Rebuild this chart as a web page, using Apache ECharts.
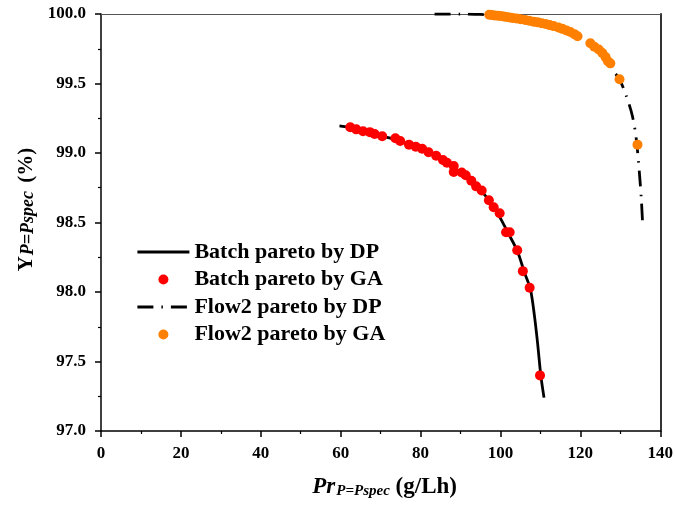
<!DOCTYPE html>
<html>
<head>
<meta charset="utf-8">
<script src="https://cdn.jsdelivr.net/npm/echarts@6/dist/echarts.min.js"></script>
<style>
  html, body { margin: 0; padding: 0; background: #fff; }
  #chart { width: 676px; height: 507px; }
</style>
</head>
<body>
<div id="chart"></div>
<script>
// Batch process pareto front computed by dynamic programming
const batchDPx = [59.7, 62, 66, 70, 74, 78, 82, 86, 88, 90, 92, 94, 96, 98, 100, 102, 104.3, 106, 107.5, 108.5, 109.3, 110.1, 110.9];
const batchDPy = [99.195, 99.185, 99.16, 99.125, 99.095, 99.05, 99.005, 98.945, 98.9, 98.86, 98.81, 98.76, 98.7, 98.625, 98.53, 98.42, 98.29, 98.14, 98.02, 97.83, 97.63, 97.4, 97.24];

// Batch process pareto solutions found by the genetic algorithm
const batchGAx = [62.4, 63.9, 65.6, 67.3, 68.5, 70.4, 73.7, 74.9, 77.1, 78.8, 80.4, 82.0, 83.9, 85.6, 86.6, 88.3, 88.3, 90.3, 91.3, 92.7, 93.9, 95.3, 97.1, 98.3, 99.8, 101.4, 102.3, 104.2, 105.6, 107.3, 109.9];
const batchGAy = [99.185, 99.17, 99.156, 99.15, 99.137, 99.12, 99.106, 99.086, 99.06, 99.045, 99.03, 99.005, 98.98, 98.95, 98.93, 98.906, 98.863, 98.86, 98.84, 98.80, 98.76, 98.73, 98.66, 98.61, 98.566, 98.43, 98.43, 98.30, 98.15, 98.03, 97.40];

// Flow2 process pareto front computed by dynamic programming
const flowDPx = [83.5, 90, 95, 100, 105, 110, 115, 119.5, 123, 126, 128, 129.8, 131.5, 133, 134, 134.8, 135.3, 135.6];
const flowDPy = [100.0, 100.0, 99.997, 99.985, 99.963, 99.933, 99.893, 99.835, 99.775, 99.705, 99.6, 99.53, 99.41, 99.27, 99.1, 98.85, 98.65, 98.48];

// Flow2 process pareto solutions found by the genetic algorithm
const flowGAx = [97.2, 97.8, 98.5, 99.3, 100.0, 100.8, 101.5, 102.3, 103.0, 104.0, 105.0, 106.2, 107.2, 108.3, 109.3, 110.3, 111.3, 112.3, 113.3, 114.5, 115.5, 116.5, 117.5, 118.5, 119.3, 122.5, 123.5, 124.6, 125.5, 126.3, 126.9, 127.5, 129.8, 134.3];
const flowGAy = [99.995, 99.993, 99.99, 99.987, 99.985, 99.982, 99.978, 99.975, 99.972, 99.968, 99.963, 99.957, 99.952, 99.945, 99.94, 99.933, 99.928, 99.92, 99.913, 99.903, 99.893, 99.882, 99.87, 99.855, 99.84, 99.79, 99.765, 99.745, 99.72, 99.69, 99.66, 99.645, 99.53, 99.06];

// Axis ranges and tick spacing
const xMin = 0, xMax = 140, xStep = 20;
const yMin = 97.0, yMax = 100.0, yStep = 0.5;

const pairs = (xs, ys) => xs.map((x, i) => [x, ys[i]]);

const FONT = '"Liberation Serif", "DejaVu Serif", serif';

const chart = echarts.init(document.getElementById('chart'), null, { renderer: 'canvas' });

const axisLineStyle = { color: '#000', width: 1.5 };
const dpSolid = { color: '#000', width: 2.8 };
const dpDashed = { color: '#000', width: 2.8, type: [16, 8, 1.5, 8] };

chart.setOption({
  animation: false,
  backgroundColor: '#fff',
  grid: { left: 101, right: 14, top: 14, bottom: 76, containLabel: false },
  legend: {
    orient: 'vertical',
    left: 131,
    top: 236,
    itemWidth: 52,
    itemHeight: 10,
    itemGap: 5.5,
    textStyle: { fontFamily: FONT, fontWeight: 'bold', fontSize: 22, color: '#000', lineHeight: 18 },
    data: [
      { name: 'Batch pareto by DP', itemStyle: { opacity: 0 }, lineStyle: dpSolid },
      { name: 'Batch pareto by GA', icon: 'circle' },
      { name: 'Flow2 pareto by DP', itemStyle: { opacity: 0 }, lineStyle: dpDashed },
      { name: 'Flow2 pareto by GA', icon: 'circle' }
    ]
  },
  xAxis: [{
    type: 'value',
    min: xMin, max: xMax, interval: xStep,
    position: 'bottom',
    name: '{it|Pr}{sub|P=Pspec}{b| (g/Lh)}',
    nameLocation: 'middle',
    nameGap: 42,
    nameTextStyle: {
      fontFamily: FONT, color: '#000',
      padding: [0, 0, 0, 8],
      rich: {
        it: { fontFamily: FONT, fontSize: 23, fontWeight: 'bold', fontStyle: 'italic', color: '#000', verticalAlign: 'bottom', lineHeight: 26 },
        sub: { fontFamily: FONT, fontSize: 15, fontWeight: 'bold', fontStyle: 'italic', color: '#000', verticalAlign: 'bottom', lineHeight: 26, padding: [9, 0, 0, 1] },
        b: { fontFamily: FONT, fontSize: 23, fontWeight: 'bold', color: '#000', verticalAlign: 'bottom', lineHeight: 26 }
      }
    },
    axisLine: { show: true, onZero: false, lineStyle: axisLineStyle },
    axisTick: { show: true, inside: false, length: 6, lineStyle: axisLineStyle },
    minorTick: { show: true, splitNumber: 2, length: 3, lineStyle: { color: '#000', width: 1.2 } },
    axisLabel: { fontFamily: FONT, fontWeight: 'bold', fontSize: 17, color: '#000', margin: 14 },
    splitLine: { show: false }
  }, {
    type: 'value',
    min: xMin, max: xMax, interval: xStep,
    position: 'top',
    axisLine: { show: true, onZero: false, lineStyle: { color: '#555', width: 1.2 } },
    axisTick: { show: false },
    axisLabel: { show: false },
    splitLine: { show: false }
  }],
  yAxis: [{
    type: 'value',
    min: yMin, max: yMax, interval: yStep,
    position: 'left',
    name: '{b|Y}{sub|P=Pspec}{b| (%)}',
    nameLocation: 'middle',
    nameGap: 62,
    nameRotate: 90,
    nameTextStyle: {
      fontFamily: FONT, color: '#000',
      padding: [0, 0, 0, 26],
      rich: {
        b: { fontFamily: FONT, fontSize: 21, fontWeight: 'bold', color: '#000', verticalAlign: 'bottom', lineHeight: 26 },
        sub: { fontFamily: FONT, fontSize: 18, fontWeight: 'bold', fontStyle: 'italic', color: '#000', verticalAlign: 'bottom', lineHeight: 26, padding: [8, 3, 0, 1] }
      }
    },
    axisLine: { show: true, onZero: false, lineStyle: axisLineStyle },
    axisTick: { show: true, inside: false, length: 6, lineStyle: axisLineStyle },
    minorTick: { show: true, splitNumber: 2, length: 3, lineStyle: { color: '#000', width: 1.2 } },
    axisLabel: {
      fontFamily: FONT, fontWeight: 'bold', fontSize: 17, color: '#000', margin: 15,
      formatter: v => v.toFixed(1)
    },
    splitLine: { show: false }
  }, {
    type: 'value',
    min: yMin, max: yMax, interval: yStep,
    position: 'right',
    axisLine: { show: true, onZero: false, lineStyle: { color: '#333', width: 2 } },
    axisTick: { show: false },
    axisLabel: { show: false },
    splitLine: { show: false }
  }],
  series: [
    {
      name: 'Batch pareto by DP',
      type: 'line',
      data: pairs(batchDPx, batchDPy),
      smooth: 0.3,
      symbol: 'none',
      lineStyle: dpSolid,
      itemStyle: { color: '#000' },
      z: 2
    },
    {
      name: 'Batch pareto by GA',
      type: 'scatter',
      data: pairs(batchGAx, batchGAy),
      symbol: 'circle',
      symbolSize: 10,
      itemStyle: { color: '#ff0000', opacity: 1 },
      z: 3
    },
    {
      name: 'Flow2 pareto by DP',
      type: 'line',
      data: pairs(flowDPx, flowDPy),
      smooth: 0.3,
      symbol: 'none',
      lineStyle: dpDashed,
      itemStyle: { color: '#000' },
      z: 2
    },
    {
      name: 'Flow2 pareto by GA',
      type: 'scatter',
      data: pairs(flowGAx, flowGAy),
      symbol: 'circle',
      symbolSize: 10,
      itemStyle: { color: '#ff8000', opacity: 1 },
      z: 3
    }
  ]
});
</script>
</body>
</html>
